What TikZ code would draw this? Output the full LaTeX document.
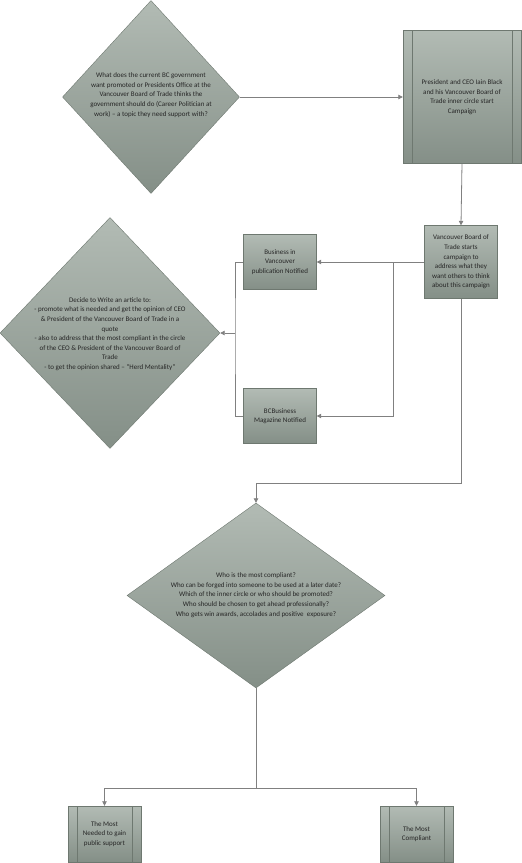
\documentclass[tikz,border=0pt]{standalone}
\usepackage{fontspec}
\setmainfont{Carlito}
\usetikzlibrary{shapes.geometric,arrows.meta}

\definecolor{boxtop}{RGB}{178,187,180}
\definecolor{boxbot}{RGB}{132,143,135}
\definecolor{edgecol}{RGB}{110,120,112}
\definecolor{linecol}{RGB}{128,128,128}

\tikzset{
  flowbox/.style={draw=edgecol, top color=boxtop, bottom color=boxbot, inner sep=0pt,
    align=center, font=\fontsize{7}{9.6}\selectfont, text=black!85},
  decision/.style={flowbox, diamond},
  process/.style={flowbox, rectangle},
  predef/.style={process, path picture={
    \draw[edgecol] ([xshift=9pt]path picture bounding box.north west) -- ([xshift=9pt]path picture bounding box.south west);
    \draw[edgecol] ([xshift=-9pt]path picture bounding box.north east) -- ([xshift=-9pt]path picture bounding box.south east);}},
  qtext/.style={align=center, inner sep=0pt, font=\fontsize{7}{9.6}\selectfont, text=black!85},
  link/.style={draw=linecol, line width=0.8pt},
  arrow/.style={link, -{Triangle[width=4.5pt,length=4.5pt]}}
}

\begin{document}
\begin{tikzpicture}[x=1pt, y=-1pt]
  \useasboundingbox (0,0) rectangle (522,863);

  % top row
  \node[decision, minimum width=177, minimum height=193] (d1) at (151,97) {};
  \node[qtext] (q1) at (151,95) {What does the current BC government\\want promoted or Presidents Office at the\\Vancouver Board of Trade thinks the\\government should do (Career Politician at\\work) -- a topic they need support with?};
  \node[predef, minimum width=118, minimum height=133] (start) at (462,97) {President and CEO Iain Black\\and his Vancouver Board of\\Trade inner circle start\\Campaign};

  % middle
  \node[process, minimum width=73, minimum height=73] (campaign) at (461,262) {Vancouver Board of\\Trade starts\\campaign to\\address what they\\want others to think\\about this campaign};
  \node[process, minimum width=73, minimum height=55] (biv) at (280,262) {Business in\\Vancouver\\publication Notified};
  \node[process, minimum width=73, minimum height=55] (bcb) at (280,416) {BCBusiness\\Magazine Notified};
  \node[decision, minimum width=220, minimum height=231] (d2) at (110,333) {};
  \node[qtext] (q2) at (110,334) {Decide to Write an article to:\\- promote what is needed and get the opinion of CEO\\\& President of the Vancouver Board of Trade in a\\quote\\- also to address that the most compliant in the circle\\of the CEO \& President of the Vancouver Board of\\Trade\\- to get the opinion shared -- “Herd Mentality”};

  % bottom
  \node[decision, minimum width=258, minimum height=185] (d3) at (256,595.5) {};
  \node[qtext] (q3) at (256,595) {Who is the most compliant?\\Who can be forged into someone to be used at a later date?\\Which of the inner circle or who should be promoted?\\Who should be chosen to get ahead professionally?\\Who gets win awards, accolades and positive\ \ exposure?};
  \node[predef, minimum width=73, minimum height=56] (needed) at (104.5,834) {The Most\\Needed to gain\\public support};
  \node[predef, minimum width=73, minimum height=56] (compliant) at (416.5,834) {The Most\\Compliant};

  \coordinate (jA) at (393,262);
  \coordinate (jB) at (235,333);
  \coordinate (jC) at (461,483);
  \coordinate (jD) at (256,788);

  \draw[arrow] (d1.east) -- (start.west);
  \draw[arrow] (start.south) -- (campaign.north);
  \draw[arrow] (campaign.west) -- (biv.east);
  \draw[arrow] (jA) |- (bcb.east);
  \draw[link] (biv.west) -| (jB) |- (bcb.west);
  \draw[arrow] (jB) -- (d2.east);
  \draw[arrow] (campaign.south) -- (jC) -| (d3.north);
  \draw[arrow] (d3.south) -- (jD) -| (needed.north);
  \draw[arrow] (jD) -| (compliant.north);
\end{tikzpicture}
\end{document}
